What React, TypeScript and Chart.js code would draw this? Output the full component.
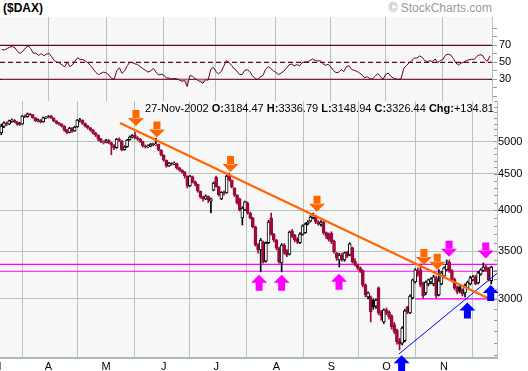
import { useEffect, useRef } from 'react';
import { Chart, registerables } from 'chart.js';

Chart.register(...registerables);

// ---------- data ----------
const monthTickIdx = [-1.7, 18, 40, 62, 82, 105, 126, 147, 169];
const monthLabels = ['M', 'A', 'M', 'J', 'J', 'A', 'S', 'O', 'N'];
const priceTicks = [3000, 3500, 4000, 4500, 5000];
const rsiLabelTicks = [30, 50, 70];

const opens = [
  5140, 5250, 5300, 5290, 5340, 5355, 5330, 5285, 5290, 5425,
  5420, 5465, 5450, 5400, 5350, 5360, 5330, 5400, 5405, 5430,
  5395, 5345, 5310, 5290, 5255, 5190, 5150, 5220, 5175, 5240,
  5355, 5360, 5300, 5260, 5225, 5190, 5140, 5100, 5040, 4980,
  4990, 5020, 4980, 4940, 4900, 5035, 5010, 4870, 4915, 5030,
  5070, 5100, 5060, 5040, 5000, 4930, 4915, 4925, 4965, 4945,
  4955, 4860, 4780, 4705, 4620, 4660, 4645, 4655, 4590, 4555,
  4530, 4470, 4330, 4460, 4385, 4350, 4255, 4175, 4150, 4185,
  4120, 4270, 4450, 4320, 4150, 4240, 4230, 4470, 4410, 4300,
  4200, 4150, 3901, 4004, 4096, 3960, 3901, 3790, 3574, 3516,
  3609, 3390, 3600, 3900, 3700, 3630, 3540, 3371, 3574, 3500,
  3470, 3740, 3690, 3640, 3600, 3700, 3720, 3830, 3860, 3910,
  3920, 3850, 3820, 3850, 3720, 3700, 3716, 3620, 3480, 3404,
  3460, 3404, 3490, 3460, 3540, 3390, 3350, 3320, 3290, 3140,
  3020, 3019, 2990, 2930, 3109, 2880, 2784, 2895, 2876, 2840,
  2760, 2713, 2620, 2600, 2620, 2923, 2867, 3010, 3170, 3290,
  3297, 3160, 3059, 3150, 3170, 3150, 3213, 3040, 3150, 3230,
  3300, 3380, 3290, 3200, 3120, 3120, 3089, 3059, 3110, 3150,
  3190, 3223, 3160, 3250, 3290, 3330, 3318, 3184.47,
];
const highs = [
  5290, 5330, 5325, 5360, 5380, 5370, 5340, 5320, 5440, 5450,
  5485, 5480, 5460, 5405, 5380, 5370, 5415, 5420, 5440, 5445,
  5400, 5350, 5320, 5300, 5265, 5200, 5235, 5230, 5255, 5370,
  5390, 5365, 5310, 5270, 5235, 5200, 5150, 5110, 5050, 5010,
  5035, 5030, 4990, 4950, 5050, 5060, 5015, 4930, 5035, 5090,
  5115, 5156, 5080, 5050, 5005, 4945, 4945, 4970, 4975, 5050,
  4960, 4870, 4790, 4710, 4675, 4670, 4680, 4660, 4600, 4565,
  4535, 4475, 4480, 4470, 4400, 4355, 4260, 4190, 4205, 4190,
  4160, 4385, 4470, 4325, 4250, 4260, 4480, 4515, 4415, 4305,
  4210, 4160, 4045, 4120, 4110, 3975, 3910, 3800, 3590, 3650,
  3620, 3610, 3870, 3965, 3710, 3640, 3550, 3590, 3590, 3520,
  3740, 3760, 3700, 3660, 3720, 3815, 3840, 3870, 3930, 3965,
  3935, 3870, 3870, 3860, 3730, 3716, 3730, 3630, 3490, 3480,
  3480, 3494, 3500, 3600, 3550, 3420, 3360, 3330, 3297, 3150,
  3070, 3030, 3000, 3000, 3120, 2890, 2905, 2914, 2886, 2850,
  2780, 2720, 2640, 2740, 2900, 2930, 3040, 3200, 3310, 3320,
  3360, 3170, 3180, 3200, 3215, 3240, 3230, 3300, 3280, 3330,
  3404, 3404, 3300, 3210, 3130, 3130, 3100, 3150, 3180, 3230,
  3240, 3240, 3280, 3310, 3371, 3345, 3325, 3336.79,
];
const lows = [
  5110, 5230, 5265, 5280, 5320, 5315, 5270, 5270, 5285, 5400,
  5410, 5440, 5390, 5335, 5330, 5310, 5320, 5385, 5395, 5390,
  5330, 5290, 5270, 5240, 5170, 5130, 5140, 5150, 5165, 5235,
  5330, 5280, 5240, 5205, 5170, 5120, 5080, 5010, 4980, 4960,
  4975, 4965, 4790, 4870, 4890, 5000, 4850, 4860, 4905, 5020,
  5060, 5040, 5020, 4985, 4910, 4895, 4900, 4915, 4930, 4935,
  4850, 4770, 4690, 4600, 4610, 4630, 4635, 4570, 4540, 4510,
  4440, 4300, 4320, 4370, 4330, 4240, 4160, 4120, 4140, 4100,
  3965, 4260, 4310, 4190, 4140, 4200, 4225, 4400, 4300, 4180,
  4080, 3990, 3814, 3995, 3950, 3890, 3780, 3560, 3480, 3276,
  3370, 3380, 3590, 3690, 3610, 3520, 3370, 3276, 3470, 3440,
  3460, 3660, 3610, 3590, 3590, 3690, 3710, 3815, 3850, 3890,
  3830, 3810, 3800, 3700, 3650, 3620, 3590, 3480, 3400, 3328,
  3390, 3390, 3430, 3450, 3370, 3340, 3300, 3270, 3120, 3020,
  3000, 2784, 2900, 2910, 2850, 2800, 2770, 2850, 2810, 2720,
  2680, 2590, 2543, 2585, 2610, 2860, 2860, 3000, 3160, 3230,
  3120, 3010, 3040, 3130, 3150, 3130, 3010, 3030, 3140, 3220,
  3290, 3270, 3170, 3090, 3050, 3060, 3030, 3019, 3100, 3140,
  3180, 3140, 3150, 3240, 3280, 3280, 3180, 3148.94,
];
const closes = [
  5258, 5310, 5290, 5345, 5360, 5330, 5290, 5300, 5430, 5420,
  5470, 5455, 5400, 5350, 5365, 5330, 5400, 5405, 5420, 5400,
  5345, 5310, 5290, 5258, 5190, 5150, 5224, 5170, 5241, 5360,
  5365, 5300, 5258, 5224, 5190, 5140, 5103, 5041, 5000, 4995,
  5025, 4980, 4943, 4895, 5041, 5020, 4864, 4911, 5025, 5074,
  5103, 5057, 5041, 5000, 4927, 4911, 4927, 4960, 4943, 4960,
  4864, 4785, 4707, 4616, 4661, 4646, 4661, 4586, 4556, 4527,
  4470, 4327, 4470, 4382, 4355, 4258, 4176, 4149, 4190, 4136,
  4150, 4368, 4320, 4205, 4240, 4230, 4470, 4413, 4310, 4203,
  4096, 4004, 4030, 4110, 3965, 3901, 3790, 3574, 3516, 3632,
  3382, 3597, 3851, 3704, 3632, 3540, 3382, 3574, 3494, 3459,
  3728, 3680, 3632, 3609, 3704, 3802, 3826, 3851, 3914, 3926,
  3851, 3826, 3851, 3716, 3680, 3640, 3609, 3494, 3426, 3460,
  3404, 3483, 3448, 3586, 3382, 3350, 3318, 3286, 3139, 3039,
  3059, 2876, 2923, 2990, 2867, 2840, 2895, 2867, 2830, 2740,
  2700, 2610, 2590, 2730, 2886, 2876, 3029, 3191, 3297, 3255,
  3139, 3029, 3170, 3191, 3202, 3223, 3029, 3181, 3265, 3318,
  3360, 3286, 3191, 3109, 3069, 3080, 3049, 3139, 3170, 3213,
  3223, 3150, 3265, 3297, 3328, 3297, 3191.63, 3326.44,
];
const rsiValues = [
  65, 64.5, 66.3, 68, 68.5, 67, 62.5, 60.5, 63, 67,
  69.2, 66, 60.6, 60.8, 58, 60.3, 57.8, 59.5, 60.6, 56.5,
  52, 50.4, 49.2, 47, 44.5, 50.4, 44.9, 46.9, 51.5, 55.5,
  53.2, 53.2, 51.5, 49.2, 46, 42, 38, 35.5, 37.3, 38.5,
  37.5, 35, 31, 30.2, 40, 43.5, 37, 40, 46, 50,
  49.5, 48.2, 47.4, 44.9, 42.6, 40.5, 38.5, 39.8, 43, 38.5,
  35, 36, 35, 31.5, 31.5, 30.5, 31, 30.6, 29.2, 27.7,
  28.5, 21.5, 34.5, 33.6, 31, 28.8, 27.3, 25.3, 29.5, 29,
  41.8, 44.1, 39, 36.5, 39, 45.5, 52.2, 50, 46.3, 42.3,
  39.8, 35.8, 35.5, 40.5, 41.3, 39, 34.3, 31, 29.5, 33,
  34.5, 41.5, 45, 43, 40, 38, 35.5, 37.5, 39.5, 43,
  47, 48, 45.7, 47.3, 46, 49.5, 50.5, 50.4, 52, 54,
  52, 51.5, 52, 48.2, 46.5, 47.7, 44.8, 40.5, 37.9, 38.2,
  41.5, 39.2, 45, 46, 41.6, 40.4, 39.5, 37.5, 35, 31.8,
  33.2, 30.5, 30.5, 33.5, 36.8, 33.6, 30, 35.5, 37.5, 33.6,
  31.5, 30.2, 29.8, 31.2, 43, 46, 49.5, 51.5, 55, 55,
  57.5, 56, 52, 50.8, 51.8, 51, 53.9, 49.6, 52, 53.5,
  58.5, 59.6, 58.5, 54.5, 49, 46.9, 49.2, 50.5, 52, 53,
  53.5, 53.5, 57, 58.7, 58.7, 54, 51, 57.5,
];

// trend / support lines (index, price)
const orangeTrendIdx = [45.3, 186.5];
const orangeTrendPrice = [5310, 3000];
const blueTrendIdx = [151.8, 189.2];
const blueTrendPrice = [2510, 3260];
const magentaLevels = [3357, 3282];
const shortSupportIdx = [157.9, 186.5];
const shortSupportPrice = 3000;

// arrows (index, tip price)
const orangeDownIdx = [51.4, 59.4, 87.5, 120.5, 161.3, 166.4];
const orangeDownPrice = [5258, 5066, 4530, 3980, 3350, 3297];
const magentaUpIdx = [98.4, 107, 128.9];
const magentaUpPrice = [3244, 3244, 3255];
const magentaDownIdx = [170.9, 184.9];
const magentaDownPrice = [3440, 3420];
const blueUpIdx = [152.8, 177.9, 186.8];
const blueUpPrice = [2500, 2965, 3139];

// ---------- styling ----------
const FONT = 'Arial, "Liberation Sans", Helvetica, sans-serif';
const GRID = '#b4c7b4';
const PANEL_BG = '#f7f7f7';
const RED = '#9b0a3a';
const BLACK = '#000000';
const MAROON = '#660033';
const ORANGE = '#ff6600';
const MAGENTA = '#ff00ff';
const BLUE = '#0000ff';

const X_MIN = -0.5;
const X_MAX = 189.2;
const RSI_X_MIN = -0.77;
const RSI_X_MAX = 187.8;

const bgPlugin = {
  id: 'panelBg',
  beforeDraw(chart: any) {
    const { ctx, chartArea: a } = chart;
    ctx.save();
    ctx.fillStyle = PANEL_BG;
    ctx.fillRect(a.left, a.top, a.right - a.left, a.bottom - a.top);
    ctx.restore();
  },
};

function drawArrow(ctx: CanvasRenderingContext2D, px: number, py: number, up: boolean, color: string) {
  ctx.fillStyle = color;
  ctx.beginPath();
  if (up) {
    ctx.moveTo(px, py);
    ctx.lineTo(px + 8, py + 8);
    ctx.lineTo(px - 8, py + 8);
    ctx.closePath();
    ctx.rect(px - 3.5, py + 7.5, 7, 8.5);
  } else {
    ctx.moveTo(px, py);
    ctx.lineTo(px + 8, py - 8);
    ctx.lineTo(px - 8, py - 8);
    ctx.closePath();
    ctx.rect(px - 3.5, py - 16, 7, 8.5);
  }
  ctx.fill();
}

const arrowPlugin = {
  id: 'arrows',
  afterDatasetsDraw(chart: any) {
    const { ctx, scales } = chart;
    const x = scales.x;
    const y = scales.y;
    const groups = [
      { idx: orangeDownIdx, price: orangeDownPrice, up: false, color: ORANGE },
      { idx: magentaUpIdx, price: magentaUpPrice, up: true, color: MAGENTA },
      { idx: magentaDownIdx, price: magentaDownPrice, up: false, color: MAGENTA },
      { idx: blueUpIdx, price: blueUpPrice, up: true, color: BLUE },
    ];
    ctx.save();
    groups.forEach((g) => {
      g.idx.forEach((xi, k) => {
        drawArrow(ctx, x.getPixelForValue(xi), y.getPixelForValue(g.price[k]), g.up, g.color);
      });
    });
    ctx.restore();
  },
};

const minorTickPlugin = {
  id: 'minorTicks',
  afterDraw(chart: any) {
    const { ctx, chartArea: a, scales } = chart;
    const y = scales.y;
    ctx.save();
    ctx.strokeStyle = '#8f9f8f';
    ctx.lineWidth = 1;
    ctx.beginPath();
    for (let v = 2500; v <= 5700; v += 100) {
      const py = Math.round(y.getPixelForValue(v)) + 0.5;
      if (py < a.top || py > a.bottom) continue;
      ctx.moveTo(a.right - 3, py);
      ctx.lineTo(a.right, py);
    }
    ctx.stroke();
    ctx.restore();
  },
};

export default function App() {
  const rsiRef = useRef<HTMLCanvasElement>(null);
  const mainRef = useRef<HTMLCanvasElement>(null);

  useEffect(() => {
    const candleColor = closes.map((c, i) => (i > 0 && c < closes[i - 1] ? RED : BLACK));
    const bodyFill = closes.map((c, i) => (c < opens[i] ? candleColor[i] : '#ffffff'));
    const bodyData = closes.map((c, i) => ({ x: i, y: [opens[i], c] }));
    const wickData = closes.map((_, i) => ({ x: i, y: [lows[i], highs[i]] }));
    const tickFont = { family: FONT, size: 11 };

    const rsiChart = new Chart(rsiRef.current as HTMLCanvasElement, {
      type: 'line',
      data: {
        datasets: [
          {
            data: rsiValues.map((v, i) => ({ x: i, y: v })),
            borderColor: MAROON,
            borderWidth: 1,
            pointRadius: 0,
            tension: 0,
            fill: { target: { value: 30 }, above: 'rgba(0,0,0,0)', below: '#cdbf8e' },
            order: 0,
          } as any,
          ...[70, 30].map((lv) => ({
            data: [{ x: RSI_X_MIN, y: lv }, { x: RSI_X_MAX, y: lv }],
            borderColor: MAROON,
            borderWidth: 1.2,
            pointRadius: 0,
            fill: false,
            order: 1,
          })),
          {
            data: [{ x: RSI_X_MIN, y: 50 }, { x: RSI_X_MAX, y: 50 }],
            borderColor: MAROON,
            borderWidth: 1.2,
            borderDash: [5, 3],
            pointRadius: 0,
            fill: false,
            order: 1,
          },
        ],
      },
      options: {
        animation: false,
        responsive: false,
        maintainAspectRatio: false,
        layout: { padding: 0 },
        plugins: { legend: { display: false }, tooltip: { enabled: false } },
        scales: {
          x: {
            type: 'linear',
            min: RSI_X_MIN,
            max: RSI_X_MAX,
            afterBuildTicks: (s: any) => {
              s.ticks = monthTickIdx.filter((v) => v >= RSI_X_MIN).map((v) => ({ value: v }));
            },
            ticks: { display: false },
            grid: { color: GRID, drawTicks: false },
            border: { display: true, color: '#c8d4c8' },
            afterFit: (s: any) => {
              s.height = 0;
              s.paddingLeft = 0;
              s.paddingRight = 0;
            },
          },
          y: {
            type: 'linear',
            position: 'right',
            min: 4.5,
            max: 103.3,
            afterBuildTicks: (s: any) => {
              s.ticks = [10, 20, 30, 40, 50, 60, 70, 80, 90].map((v) => ({ value: v }));
            },
            ticks: {
              callback: (v: any) => (rsiLabelTicks.includes(v) ? String(v) : ''),
              font: tickFont,
              color: '#000',
              padding: 2,
              autoSkip: false,
            },
            grid: { drawOnChartArea: false, drawTicks: true, tickLength: 5, tickColor: '#8f9f8f' },
            border: { color: GRID },
            afterFit: (s: any) => {
              s.width = 36;
              s.paddingTop = 0;
              s.paddingBottom = 0;
            },
          },
        },
      } as any,
      plugins: [bgPlugin],
    });

    const mainChart = new Chart(mainRef.current as HTMLCanvasElement, {
      type: 'bar',
      data: {
        datasets: [
          {
            type: 'bar',
            data: bodyData as any,
            backgroundColor: bodyFill,
            borderColor: candleColor,
            borderWidth: 1,
            borderSkipped: false,
            barThickness: 3,
            grouped: false,
            order: 3,
          } as any,
          {
            type: 'bar',
            data: wickData as any,
            backgroundColor: candleColor,
            borderWidth: 0,
            barThickness: 1,
            grouped: false,
            order: 4,
          } as any,
          {
            type: 'line',
            data: orangeTrendIdx.map((x, k) => ({ x, y: orangeTrendPrice[k] })),
            borderColor: ORANGE,
            borderWidth: 2.2,
            pointRadius: 0,
            order: 1,
          },
          {
            type: 'line',
            data: blueTrendIdx.map((x, k) => ({ x, y: blueTrendPrice[k] })),
            borderColor: BLUE,
            borderWidth: 1,
            pointRadius: 0,
            order: 1,
          },
          ...magentaLevels.map((lv) => ({
            type: 'line' as const,
            data: [{ x: X_MIN, y: lv }, { x: X_MAX, y: lv }],
            borderColor: MAGENTA,
            borderWidth: 1.2,
            pointRadius: 0,
            order: 5,
          })),
          {
            type: 'line',
            data: shortSupportIdx.map((x) => ({ x, y: shortSupportPrice })),
            borderColor: MAGENTA,
            borderWidth: 1.2,
            pointRadius: 0,
            order: 5,
          },
        ],
      },
      options: {
        animation: false,
        responsive: false,
        maintainAspectRatio: false,
        layout: { padding: 0 },
        plugins: { legend: { display: false }, tooltip: { enabled: false } },
        scales: {
          x: {
            type: 'linear',
            min: X_MIN,
            max: X_MAX,
            offset: false,
            afterBuildTicks: (s: any) => {
              s.ticks = monthTickIdx.map((v) => ({ value: v }));
            },
            ticks: {
              callback: (_v: any, i: number) => monthLabels[i],
              font: tickFont,
              color: '#000',
              padding: 2,
              autoSkip: false,
              maxRotation: 0,
            },
            grid: { color: GRID, drawTicks: false },
            border: { color: '#aabcaa', width: 2 },
            afterFit: (s: any) => {
              s.height = 13;
              s.paddingLeft = 0;
              s.paddingRight = 0;
            },
          },
          y: {
            type: 'logarithmic',
            position: 'right',
            min: 2477,
            max: 5702,
            afterBuildTicks: (s: any) => {
              s.ticks = priceTicks.map((v) => ({ value: v }));
            },
            ticks: {
              callback: (v: any) => String(v),
              font: tickFont,
              color: '#000',
              padding: 1,
              autoSkip: false,
            },
            grid: { color: GRID, drawTicks: false },
            border: { color: GRID },
            afterFit: (s: any) => {
              s.width = 31;
              s.paddingTop = 0;
              s.paddingBottom = 0;
            },
          },
        },
      } as any,
      plugins: [bgPlugin, arrowPlugin, minorTickPlugin],
    });

    return () => {
      rsiChart.destroy();
      mainChart.destroy();
    };
  }, []);

  return (
    <div
      style={{
        position: 'absolute',
        left: 0,
        top: 0,
        width: 528,
        height: 371,
        background: '#ffffff',
        fontFamily: FONT,
        overflow: 'hidden',
      }}
    >
      <div style={{ position: 'absolute', left: 3, top: 1, fontSize: 12, fontWeight: 'bold', lineHeight: '14px' }}>
        ($DAX)
      </div>
      <div style={{ position: 'absolute', right: 36, top: 1, fontSize: 12, color: '#9a9a9a', lineHeight: '14px' }}>
        © StockCharts.com
      </div>
      <canvas ref={rsiRef} width={528} height={84} style={{ position: 'absolute', left: 0, top: 17, display: 'block' }} />
      <canvas ref={mainRef} width={528} height={270} style={{ position: 'absolute', left: 0, top: 101, display: 'block' }} />
      <div
        style={{
          position: 'absolute',
          right: 34,
          top: 102,
          fontSize: 11,
          lineHeight: '12px',
          whiteSpace: 'nowrap',
          color: '#000',
        }}
      >
        27-Nov-2002 <b>O:</b>3184.47 <b>H:</b>3336.79 <b>L:</b>3148.94 <b>C:</b>3326.44 <b>Chg:</b>+134.81
      </div>
    </div>
  );
}
